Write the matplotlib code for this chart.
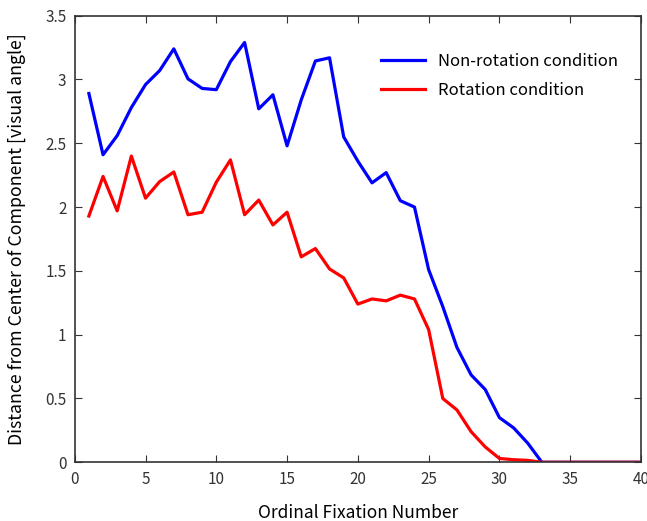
import numpy as np
import matplotlib.pyplot as plt

plt.rcParams['font.family'] = ['Noto Sans CJK JP', 'DejaVu Sans']

fixation = np.arange(1, 41)
non_rotation = [2.89, 2.41, 2.56, 2.78, 2.96, 3.07, 3.24, 3.005, 2.93, 2.92,
                3.14, 3.29, 2.77, 2.88, 2.48, 2.84, 3.145, 3.17, 2.55, 2.36,
                2.19, 2.27, 2.05, 2.00, 1.51, 1.22, 0.90, 0.685, 0.57, 0.35,
                0.27, 0.15, 0.0, 0.0, 0.0, 0.0, 0.0, 0.0, 0.0, 0.0]
rotation = [1.93, 2.24, 1.97, 2.40, 2.07, 2.20, 2.275, 1.94, 1.96, 2.195,
            2.37, 1.94, 2.055, 1.86, 1.96, 1.61, 1.675, 1.515, 1.445, 1.24,
            1.28, 1.265, 1.31, 1.28, 1.04, 0.50, 0.41, 0.24, 0.12, 0.03,
            0.02, 0.015, 0.0, 0.0, 0.0, 0.0, 0.0, 0.0, 0.0, 0.0]

fig = plt.figure(figsize=(6.47, 5.21), dpi=100)
ax = fig.add_axes([0.1155, 0.1127, 0.8752, 0.8572])

ax.plot(fixation, non_rotation, color='#0000ff', linewidth=2.3, label='Non-rotation condition')
ax.plot(fixation, rotation, color='#ff0000', linewidth=2.3, label='Rotation condition')

ax.set_xlim(0, 40)
ax.set_ylim(0, 3.5)
ax.set_xticks(np.arange(0, 41, 5))
ax.set_yticks(np.arange(0, 3.51, 0.5))
ax.set_yticklabels(['0', '0.5', '1', '1.5', '2', '2.5', '3', '3.5'])
ax.tick_params(direction='in', top=True, right=True, labelsize=11, length=5,
               colors='#333333', pad=6)
for sp in ax.spines.values():
    sp.set_color('#333333')
    sp.set_linewidth(1.2)

ax.set_xlabel('Ordinal Fixation Number', fontsize=12.5, labelpad=12)
ax.set_ylabel('Distance from Center of Component [visual angle]', fontsize=12.8, labelpad=14)

ax.legend(loc='upper left', bbox_to_anchor=(0.515, 0.95), frameon=False,
          fontsize=12, handlelength=2.6, handletextpad=0.8, labelspacing=0.7)

fig.savefig('out.png', dpi=100)
